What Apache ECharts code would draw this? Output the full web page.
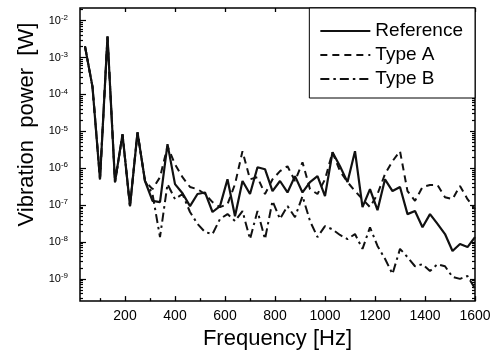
<!DOCTYPE html>
<html>
<head>
<meta charset="utf-8">
<script src="https://cdn.jsdelivr.net/npm/echarts@6/dist/echarts.min.js"></script>
<style>
  html, body { margin: 0; padding: 0; background: #fff; }
  #chart { width: 494px; height: 355px; }
</style>
</head>
<body>
<div id="chart"></div>
<script>
// Frequencies of the spectrum lines [Hz]
const frequencies = [
  40, 70, 100, 130, 160, 190, 220, 250, 280, 310,
  340, 370, 400, 430, 460, 490, 520, 550, 580, 610,
  640, 670, 700, 730, 760, 790, 820, 850, 880, 910,
  940, 970, 1000, 1030, 1060, 1090, 1120, 1150, 1180, 1210,
  1240, 1270, 1300, 1330, 1360, 1390, 1420, 1450, 1480, 1510,
  1540, 1570, 1600
];

// Vibration power [W]
const referencePower = [
  2.0e-3, 1.6e-4, 5.0e-7, 3.7e-3, 4.2e-7, 8.3e-6, 9.4e-8, 9.4e-6, 4.5e-7, 1.3e-7,
  1.2e-7, 4.5e-6, 3.7e-7, 2.1e-7, 9.4e-8, 2.0e-7, 2.2e-7, 6.5e-8, 9.4e-8, 5.0e-7,
  5.0e-8, 4.5e-7, 2.0e-7, 1.06e-6, 9.4e-7, 2.4e-7, 4.5e-7, 2.2e-7, 6.1e-7, 2.2e-7,
  4.2e-7, 6.1e-7, 1.75e-7, 2.7e-6, 1.13e-6, 4.2e-7, 2.9e-6, 8.8e-8, 2.7e-7, 7.3e-8,
  5.0e-7, 2.4e-7, 3.1e-7, 5.7e-8, 6.9e-8, 2.5e-8, 5.7e-8, 3.1e-8, 1.64e-8, 5.7e-9,
  8.8e-9, 7.3e-9, 1.36e-8
];

const typeAPower = [
  2.0e-3, 1.6e-4, 5.0e-7, 3.7e-3, 4.2e-7, 8.3e-6, 9.4e-8, 9.4e-6, 4.5e-7, 2.7e-7,
  5.7e-7, 3.9e-6, 1.28e-6, 5.7e-7, 3.1e-7, 2.7e-7, 2.0e-7, 1.2e-7, 8.8e-8, 1.06e-7,
  3.7e-7, 2.9e-6, 5.0e-7, 5.7e-7, 2.0e-7, 5.0e-7, 8.3e-7, 1.13e-6, 4.5e-7, 1.45e-6,
  2.7e-7, 2.0e-7, 5.0e-7, 2.7e-6, 8.3e-7, 4.2e-7, 2.4e-7, 1.45e-7, 8.8e-8, 2.0e-7,
  6.9e-7, 1.55e-6, 2.9e-6, 2.4e-7, 1.3e-7, 3.1e-7, 3.5e-7, 3.5e-7, 1.64e-7, 1.45e-7,
  3.3e-7, 1.45e-7, 7.8e-8
];

const typeBPower = [
  2.0e-3, 1.6e-4, 5.0e-7, 3.7e-3, 4.2e-7, 8.3e-6, 9.4e-8, 9.4e-6, 4.5e-7, 2.0e-7,
  1.36e-8, 3.7e-7, 1.45e-7, 2.0e-7, 6.5e-8, 3.1e-8, 1.86e-8, 1.64e-8, 4.2e-8, 5.7e-8,
  3.7e-8, 6.9e-8, 1.2e-8, 6.9e-8, 1.2e-8, 1.3e-7, 4.2e-8, 9.4e-8, 4.7e-8, 1.75e-7,
  3.7e-8, 1.36e-8, 2.7e-8, 2.2e-8, 1.55e-8, 1.2e-8, 1.64e-8, 6.5e-9, 2.5e-8, 7.8e-9,
  3.5e-9, 1.36e-9, 6.5e-9, 3.9e-9, 2.2e-9, 2.5e-9, 1.64e-9, 2.5e-9, 2.2e-9, 1.13e-9,
  1.0e-9, 1.2e-9, 5.4e-10
];

// Axis ticks
const xMajorTicks = [200, 400, 600, 800, 1000, 1200, 1400, 1600];
const xMinorTicks = [100, 300, 500, 700, 900, 1100, 1300, 1500];
const yMajorTicks = [1e-9, 1e-8, 1e-7, 1e-6, 1e-5, 1e-4, 1e-3, 1e-2];

const X_MIN = 20, X_MAX = 1600;
const Y_MIN = 2.5e-10, Y_MAX = 2.2e-2;

// log minor ticks 2..9 x 10^n inside the range
const yMinorTicks = [];
for (let e = -10; e <= -2; e++) {
  for (let m = 2; m <= 9; m++) {
    const v = m * Math.pow(10, e);
    if (v > Y_MIN && v < Y_MAX) yMinorTicks.push(v);
  }
}

const FONT = 'Liberation Sans, Arial, Helvetica, sans-serif';
const INK = '#111';

const pairs = (ys) => frequencies.map((f, i) => [f, ys[i]]);

function xAxisDef(position, ticks, len, withLabels) {
  return {
    type: 'value',
    position: position,
    min: X_MIN,
    max: X_MAX,
    axisLine: { show: false },
    splitLine: { show: false },
    axisTick: {
      show: true, inside: true, length: len, customValues: ticks,
      lineStyle: { color: '#000', width: 1.3 }
    },
    axisLabel: withLabels ? {
      show: true, customValues: ticks, margin: 8,
      formatter: (v) => String(v),
      color: '#000', fontSize: 14, fontFamily: FONT
    } : { show: false }
  };
}

function yAxisDef(position, ticks, len, withLabels) {
  return {
    type: 'log',
    logBase: 10,
    position: position,
    min: Y_MIN,
    max: Y_MAX,
    axisLine: { show: false },
    splitLine: { show: false },
    minorTick: { show: false },
    axisTick: {
      show: true, inside: true, length: len, customValues: ticks,
      lineStyle: { color: '#000', width: 1.2 }
    },
    axisLabel: withLabels ? {
      show: true, customValues: ticks, margin: 12,
      formatter: function (v) {
        const e = Math.round(Math.log10(v));
        return '{b|10}{s|' + e + '}';
      },
      rich: {
        b: { fontSize: 11, color: '#000', fontFamily: FONT },
        s: { fontSize: 8, color: '#000', fontFamily: FONT, verticalAlign: 'top', padding: [0, 0, 6, 0] }
      }
    } : { show: false }
  };
}

const chart = echarts.init(document.getElementById('chart'));

const bottomMain = xAxisDef('bottom', xMajorTicks, 5, true);
bottomMain.name = 'Frequency [Hz]';
bottomMain.nameLocation = 'middle';
bottomMain.nameGap = 18;
bottomMain.nameTextStyle = { fontSize: 22, color: '#000', fontFamily: FONT };

const leftMain = yAxisDef('left', yMajorTicks, 6, true);
leftMain.name = 'Vibration  power  [W]';
leftMain.nameLocation = 'middle';
leftMain.nameGap = 30;
leftMain.nameTextStyle = { fontSize: 22, color: '#000', fontFamily: FONT, padding: [0, 0, 0, 60] };

const option = {
  animation: false,
  backgroundColor: '#fff',
  color: [INK, INK, INK],
  grid: {
    left: 80, top: 8, width: 395, height: 294,
    show: true, borderColor: '#000', borderWidth: 1.5
  },
  legend: {
    orient: 'vertical',
    right: 19,
    top: 8,
    itemWidth: 50,
    itemHeight: 12,
    itemGap: 0,
    padding: [11, 12, 7, 10],
    borderColor: '#000',
    borderWidth: 1,
    backgroundColor: '#fff',
    itemStyle: { opacity: 0 },
    textStyle: { fontSize: 19, lineHeight: 24, color: '#000', fontFamily: FONT },
    data: ['Reference', 'Type A', 'Type B']
  },
  xAxis: [
    bottomMain,
    xAxisDef('bottom', xMinorTicks, 3, false),
    xAxisDef('top', xMajorTicks, 4, false)
  ],
  yAxis: [
    leftMain,
    yAxisDef('left', yMinorTicks, 3, false),
    yAxisDef('right', yMajorTicks, 5, false),
    yAxisDef('right', yMinorTicks, 3, false)
  ],
  series: [
    {
      name: 'Type B',
      type: 'line',
      symbol: 'none',
      data: pairs(typeBPower),
      itemStyle: { color: INK },
      lineStyle: { color: INK, width: 2, type: [9, 4, 2.5, 4] },
      z: 2
    },
    {
      name: 'Type A',
      type: 'line',
      symbol: 'none',
      data: pairs(typeAPower),
      itemStyle: { color: INK },
      lineStyle: { color: INK, width: 2, type: [7, 5] },
      z: 3
    },
    {
      name: 'Reference',
      type: 'line',
      symbol: 'none',
      data: pairs(referencePower),
      itemStyle: { color: INK },
      lineStyle: { color: INK, width: 2.2, type: 'solid' },
      z: 4
    }
  ]
};

chart.setOption(option);
</script>
</body>
</html>
